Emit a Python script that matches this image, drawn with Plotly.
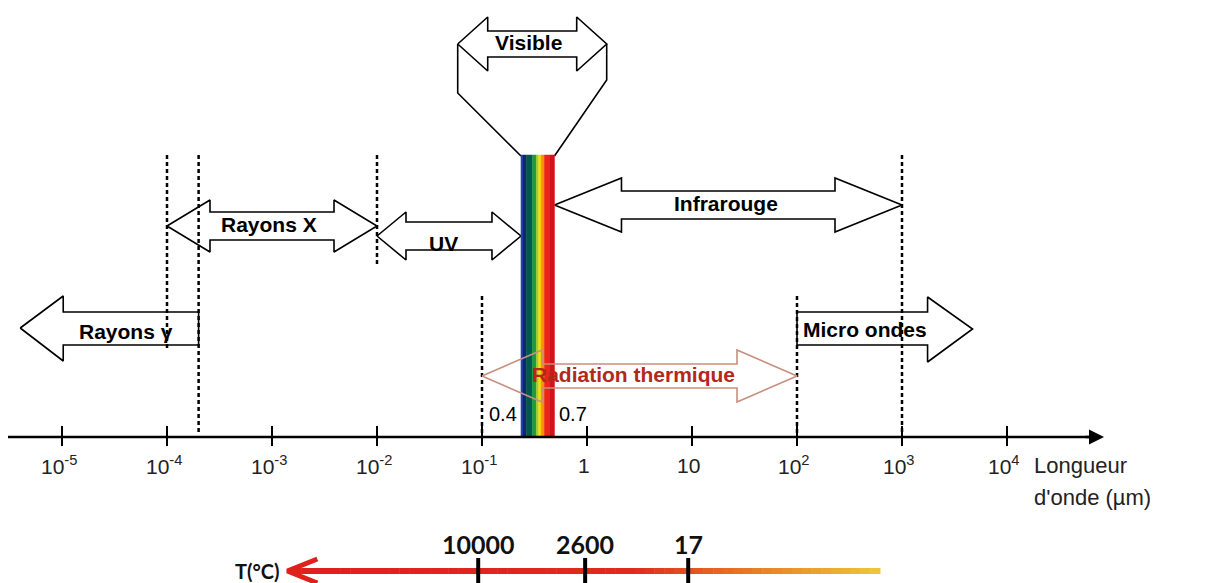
import numpy as np
import plotly.graph_objects as go

# wavelength axis (µm), one tick per decade
decades = [-5, -4, -3, -2, -1, 0, 1, 2, 3, 4]
decade_labels = ["10<sup>-5</sup>", "10<sup>-4</sup>", "10<sup>-3</sup>", "10<sup>-2</sup>",
                 "10<sup>-1</sup>", "1", "10", "10<sup>2</sup>", "10<sup>3</sup>", "10<sup>4</sup>"]
axis_title = ["Longueur", "d'onde (µm)"]

# spectral domains (µm)
gamma_range = [4e-6, 2e-4]
xray_range = [1e-4, 1e-2]
uv_range = [1e-2, 0.235]
visible_range = [0.235, 0.49]
visible_labels = ["0.4", "0.7"]
ir_range = [0.49, 1e3]
micro_range = [1e2, 4.7e3]
thermal_range = [0.1, 1e2]
boundaries = [1e-4, 2e-4, 1e-2, 0.1, 1e2, 1e3]

# temperature scale under the axis
temp_labels = ["10000", "2600", "17"]
temp_pos = [0.092, 0.96, 9.2]
temp_range = [1.4e-3, 617]

W, H = 1207, 583
OFF = 8             # the page body adds an 8px margin
PX = 105.0          # pixels per decade
X0 = -5 - 62 / PX   # left edge of the window in decades

fig = go.Figure()


def lg(v):
    return float(np.log10(v))


def poly(xs, ys, fill="white", color="black", width=1.6):
    fig.add_trace(go.Scatter(x=list(xs) + [xs[0]], y=list(ys) + [ys[0]], mode="lines",
                             fill="toself", fillcolor=fill,
                             line=dict(color=color, width=width),
                             hoverinfo="skip", showlegend=False))


def line(xs, ys, color="black", width=2, dash=None):
    fig.add_trace(go.Scatter(x=xs, y=ys, mode="lines",
                             line=dict(color=color, width=width, dash=dash),
                             hoverinfo="skip", showlegend=False))


def double_arrow(a, b, c, head, hh, bh, **kw):
    # a, b in decades, head length in decades, half heights in px
    xs = [a, a + head, a + head, b - head, b - head, b, b - head, b - head, a + head, a + head]
    ys = [c, c - hh, c - bh, c - bh, c - hh, c, c + hh, c + bh, c + bh, c + hh]
    poly(xs, ys, **kw)


# Rayons gamma (points left)
a, b = lg(gamma_range[0]), lg(gamma_range[1])
hd = 43 / PX
poly([a, a + hd, a + hd, b, b, a + hd, a + hd], [328, 296, 312, 312, 345, 345, 361])

# Micro ondes (points right)
a, b = lg(micro_range[0]), lg(micro_range[1])
hd = 45 / PX
poly([a, b - hd, b - hd, b, b - hd, b - hd, a], [312, 312, 297, 329, 362, 345, 345])

double_arrow(lg(xray_range[0]), lg(xray_range[1]), 226, 43 / PX, 26, 14)
double_arrow(lg(uv_range[0]), lg(uv_range[1]), 236, 29 / PX, 24, 14)
double_arrow(lg(ir_range[0]), lg(ir_range[1]), 205, 67 / PX, 27, 14)

# Visible inset above the band
vc = (lg(visible_range[0]) + lg(visible_range[1])) / 2
va, vb = vc - 0.762, vc + 0.657
double_arrow(va, vb, 44, 30 / PX, 27, 13)
line([va, va, lg(visible_range[0])], [44, 93, 156], width=1.6)
line([vb, vb, lg(visible_range[1])], [44, 80, 156], width=1.6)

# dashed domain boundaries
dash_span = [(155, 348), (155, 433), (155, 265), (296, 437), (296, 437), (155, 433)]
for v, (t, bt) in zip(boundaries, dash_span):
    line([lg(v), lg(v)], [t, bt], width=2.5, dash="4px,3px")

# rainbow band
stripes = [(0.00, 0.06, "#2b3fb0"), (0.06, 0.16, "#0c2a6a"), (0.16, 0.34, "#005a4a"),
           (0.34, 0.46, "#1f9a3a"), (0.46, 0.53, "#a6cf2c"), (0.53, 0.60, "#f6e100"),
           (0.60, 0.70, "#f59600"), (0.70, 0.86, "#e8261a"), (0.86, 1.00, "#d3121c")]
ra, rb = lg(visible_range[0]), lg(visible_range[1])
for f0, f1, col in stripes:
    x0, x1 = ra + f0 * (rb - ra), ra + f1 * (rb - ra)
    poly([x0, x1, x1, x0], [155, 155, 437, 437], fill=col, color=col, width=0.5)

# Radiation thermique (outline only, drawn over the band)
a, b = lg(thermal_range[0]), lg(thermal_range[1])
hd = 60 / PX
c, hh, bh = 376, 26, 12
xs = [a, a + hd, a + hd, b - hd, b - hd, b, b - hd, b - hd, a + hd, a + hd, a]
ys = [c, c - hh, c - bh, c - bh, c - hh, c, c + hh, c + bh, c + bh, c + hh, c]
line(xs, ys, color="#c98f7e", width=1.6)

# wavelength axis
ax0, ax1 = X0 + 8 / PX, X0 + 1104 / PX
line([ax0, ax1 - 8 / PX], [437, 437], width=2.5)
fig.add_annotation(x=ax1, y=437, ax=ax1 - 20 / PX, ay=437, axref="x", ayref="y",
                   showarrow=True, arrowhead=2, arrowsize=1.2, arrowwidth=2.5,
                   arrowcolor="black", text="")
for d in decades:
    line([d, d], [426, 446], width=2)

annos = []


def label(x, y, text, size=21, color="black", family="Liberation Sans", xanchor="center",
          align="center"):
    annos.append(dict(x=x, y=y, text=text, showarrow=False, xanchor=xanchor, yanchor="middle",
                      align=align, font=dict(family=family, size=size, color=color)))


for d, t in zip(decades, decade_labels):
    label(d - 0.03, 465, t, size=21, color="#222")
label(X0 + 1032 / PX, 465, axis_title[0], size=22, color="#222", xanchor="left")
label(X0 + 1032 / PX, 497, axis_title[1], size=22, color="#222", xanchor="left")

label((lg(gamma_range[0]) + lg(gamma_range[1])) / 2 + 0.16, 331, "<b>Rayons γ</b>")
label((lg(xray_range[0]) + lg(xray_range[1])) / 2 - 0.03, 224, "<b>Rayons X</b>")
label((lg(uv_range[0]) + lg(uv_range[1])) / 2 - 0.05, 243, "<b>UV</b>")
label((lg(ir_range[0]) + lg(ir_range[1])) / 2 - 0.02, 203, "<b>Infrarouge</b>")
label(lg(micro_range[0]) + 0.04, 329, "<b>Micro ondes</b>", xanchor="left")
label(vc - 0.09, 42, "<b>Visible</b>")
label((lg(thermal_range[0]) + lg(thermal_range[1])) / 2 - 0.06, 374,
      "<b>Radiation thermique</b>", size=21, color="#b3281a")
label(lg(visible_range[0]) - 0.02, 414, visible_labels[0], size=20, xanchor="right")
label(lg(visible_range[1]) + 0.02, 414, visible_labels[1], size=20, xanchor="left")

# temperature arrow with red -> gold gradient
ta, tb = lg(temp_range[0]), lg(temp_range[1])
stops = [(0.0, (224, 32, 28)), (0.58, (222, 44, 28)), (0.75, (232, 112, 32)), (1.0, (242, 198, 60))]
n = 60
for i in range(n):
    f = (i + 0.5) / n
    for (p0, c0), (p1, c1) in zip(stops[:-1], stops[1:]):
        if p0 <= f <= p1:
            t = (f - p0) / (p1 - p0)
            rgb = tuple(int(c0[k] + t * (c1[k] - c0[k])) for k in range(3))
    x0 = ta + 4 / PX + (tb - ta - 4 / PX) * i / n
    x1 = ta + 4 / PX + (tb - ta - 4 / PX) * (i + 1.05) / n
    line([x0, x1], [571, 571], color="rgb(%d,%d,%d)" % rgb, width=6)
line([ta + 30 / PX, ta, ta + 30 / PX], [559, 571, 583], color="rgb(224,32,28)", width=5)

for v, t in zip(temp_pos, temp_labels):
    line([lg(v), lg(v)], [558, 583], width=4)
    label(lg(v), 544, "<b>" + t + "</b>", size=25, color="#111", family="Lato")
label(ta - 5 / PX, 571, "<b>T(°C)</b>", size=20, color="#111", family="Lato", xanchor="right")

fig.update_layout(
    width=W - OFF, height=H - OFF,
    margin=dict(l=0, r=0, t=0, b=0),
    paper_bgcolor="white", plot_bgcolor="white",
    xaxis=dict(range=[X0 + OFF / PX, X0 + W / PX], visible=False, fixedrange=True),
    yaxis=dict(range=[H, OFF], visible=False, fixedrange=True),
    annotations=list(fig.layout.annotations) + annos,
    showlegend=False,
)

fig.write_html("out.html")
